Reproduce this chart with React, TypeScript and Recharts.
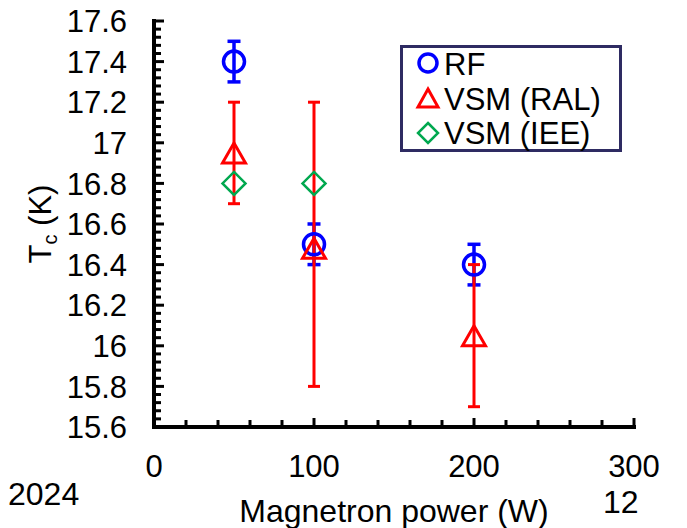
import React from 'react'
import { ScatterChart, Scatter, XAxis, YAxis, ErrorBar, Legend, Label } from 'recharts'

// magnetron power (W) and Tc (K)
const powers = [50, 100, 200]
const rfTc = [17.4, 16.5, 16.4]
const rfErr = [0.1, 0.1, 0.1]
const ralTc = [16.95, 16.48, 16.05]
const ralErr: [number, number][] = [[0.25, 0.25], [0.68, 0.72], [0.35, 0.35]]
const ieePowers = [50, 100]
const ieeTc = [16.8, 16.8]

const seriesNames = ['RF', 'VSM (RAL)', 'VSM (IEE)']
const xMajor = [0, 100, 200, 300]
const yMajor = [15.6, 15.8, 16, 16.2, 16.4, 16.6, 16.8, 17, 17.2, 17.4, 17.6]
const xMinorStep = 20
const yMinorStep = 0.04

const FONT = '"Liberation Sans", Arial, sans-serif'
const BLUE = '#0000ff'
const RED = '#ff0000'
const GREEN = '#00a84f'

const steps = (lo: number, hi: number, step: number) => {
  const out: number[] = []
  const n = Math.round((hi - lo) / step)
  for (let i = 0; i <= n; i++) out.push(Math.round((lo + i * step) * 100) / 100)
  return out
}
const xTicks = steps(xMajor[0], xMajor[xMajor.length - 1], xMinorStep)
const yTicks = steps(yMajor[0], yMajor[yMajor.length - 1], yMinorStep)
const isMajor = (list: number[], v: number) => list.some((m) => Math.abs(m - v) < 1e-6)

const rfData = powers.map((p, i) => ({ x: p, y: rfTc[i], err: rfErr[i] }))
const ralData = powers.map((p, i) => ({ x: p, y: ralTc[i], err: ralErr[i] }))
const ieeData = ieePowers.map((p, i) => ({ x: p, y: ieeTc[i] }))

function CircleMark({ cx, cy, r = 10.5 }: any) {
  return <circle cx={cx} cy={cy} r={r} fill="none" stroke={BLUE} strokeWidth={3.5} />
}

function TriangleMark({ cx, cy, w = 23, h = 20 }: any) {
  const pts = `${cx},${cy - h / 2} ${cx + w / 2},${cy + h / 2} ${cx - w / 2},${cy + h / 2}`
  return <polygon points={pts} fill="none" stroke={RED} strokeWidth={3} strokeLinejoin="miter" />
}

function DiamondMark({ cx, cy, s = 11.5 }: any) {
  const pts = `${cx},${cy - s} ${cx + s},${cy} ${cx},${cy + s} ${cx - s},${cy}`
  return <polygon points={pts} fill="none" stroke={GREEN} strokeWidth={2.5} />
}

function YTick({ x, y, payload }: any) {
  const major = isMajor(yMajor, payload.value)
  return (
    <g>
      <line x1={x} x2={x + (major ? 10 : 7)} y1={y} y2={y} stroke="#000" strokeWidth={3} />
      {major && (
        <text x={x - 27} y={y} dy="0.36em" textAnchor="end" fontSize={31} fontFamily={FONT} fill="#000">
          {payload.value}
        </text>
      )}
    </g>
  )
}

function XTick({ x, y, payload }: any) {
  const major = isMajor(xMajor, payload.value)
  return (
    <g>
      <line x1={x} x2={x} y1={y} y2={y - (major ? 9 : 7)} stroke="#000" strokeWidth={3} />
      {major && (
        <text x={x} y={y + 50} textAnchor="middle" fontSize={31} fontFamily={FONT} fill="#000">
          {payload.value}
        </text>
      )}
    </g>
  )
}

const legendMarks: Record<string, (cx: number, cy: number) => React.ReactNode> = {
  RF: (cx, cy) => <CircleMark cx={cx} cy={cy} r={9} />,
  'VSM (RAL)': (cx, cy) => <TriangleMark cx={cx} cy={cy} w={20} h={18} />,
  'VSM (IEE)': (cx, cy) => <DiamondMark cx={cx} cy={cy} s={10} />,
}

function LegendBox({ payload }: any) {
  const present = (payload || []).map((p: any) => p.value)
  // keep the plotting order, legend payload comes back sorted
  const items = seriesNames.filter((n) => present.includes(n))
  return (
    <svg width={222} height={107} style={{ display: 'block' }}>
      <rect x={1.5} y={1.5} width={219} height={104} fill="#fff" stroke="#2e2b62" strokeWidth={3} />
      {items.map((name: string, i: number) => (
        <g key={name}>
          {legendMarks[name]?.(28, 18 + i * 35)}
          <text x={44} y={30 + i * 34.5} fontSize={31} fontFamily={FONT} fill="#000">
            {name}
          </text>
        </g>
      ))}
    </svg>
  )
}

export default function App() {
  const axisLine = { stroke: '#000', strokeWidth: 4, strokeLinecap: 'square' as const }
  return (
    <div style={{ position: 'absolute', left: 0, top: 0, width: 687, height: 528, background: '#fff' }}>
      <ScatterChart width={687} height={528} margin={{ top: 21, right: 53, bottom: 41, left: 54 }}>
        <XAxis
          type="number"
          dataKey="x"
          domain={[0, 300]}
          ticks={xTicks}
          interval={0}
          allowDataOverflow
          height={60}
          tickSize={0}
          tickMargin={0}
          tickLine={false}
          axisLine={axisLine}
          tick={<XTick />}
        >
          <Label
            content={({ viewBox }: any) => (
              <text
                x={viewBox.x + viewBox.width / 2}
                y={viewBox.y + 95}
                textAnchor="middle"
                fontSize={32}
                fontFamily={FONT}
                fill="#000"
              >
                Magnetron power (W)
              </text>
            )}
          />
        </XAxis>
        <XAxis
          xAxisId="top"
          orientation="top"
          type="number"
          domain={[0, 300]}
          height={0}
          tick={false}
          tickLine={false}
          axisLine={axisLine}
        />
        <YAxis
          type="number"
          dataKey="y"
          domain={[15.6, 17.6]}
          ticks={yTicks}
          interval={0}
          allowDataOverflow
          width={100}
          tickSize={0}
          tickMargin={0}
          tickLine={false}
          axisLine={axisLine}
          tick={<YTick />}
        >
          <Label
            content={({ viewBox }: any) => {
              const cy = viewBox.y + viewBox.height / 2
              return (
                <text
                  x={51}
                  y={cy}
                  transform={`rotate(-90, 51, ${cy})`}
                  textAnchor="middle"
                  fontSize={31}
                  fontFamily={FONT}
                  fill="#000"
                >
                  T
                  <tspan fontSize={20} dy={6}>c</tspan>
                  <tspan dy={-6}> (K)</tspan>
                </text>
              )
            }}
          />
        </YAxis>
        <YAxis
          yAxisId="right"
          orientation="right"
          type="number"
          domain={[15.6, 17.6]}
          width={0}
          tick={false}
          tickLine={false}
          axisLine={axisLine}
        />
        <Legend
          layout="vertical"
          align="center"
          verticalAlign="middle"
          content={<LegendBox />}
          wrapperStyle={{ left: 400, top: 45, width: 222, height: 107 }}
        />
        <Scatter name="RF" data={rfData} shape={<CircleMark />} fill={BLUE} isAnimationActive={false}>
          <ErrorBar dataKey="err" direction="y" width={6.5} strokeWidth={3.5} stroke={BLUE} />
        </Scatter>
        <Scatter name="VSM (RAL)" data={ralData} shape={<TriangleMark />} fill={RED} isAnimationActive={false}>
          <ErrorBar dataKey="err" direction="y" width={6} strokeWidth={3} stroke={RED} />
        </Scatter>
        <Scatter name="VSM (IEE)" data={ieeData} shape={<DiamondMark />} fill={GREEN} isAnimationActive={false} />
      </ScatterChart>
      <svg width={687} height={528} style={{ position: 'absolute', left: 0, top: 0, pointerEvents: 'none' }}>
        <text x={8} y={505} fontSize={32} fontFamily={FONT} fill="#000">2024</text>
        <text x={603} y={513} fontSize={32} fontFamily={FONT} fill="#000">12</text>
      </svg>
    </div>
  )
}
